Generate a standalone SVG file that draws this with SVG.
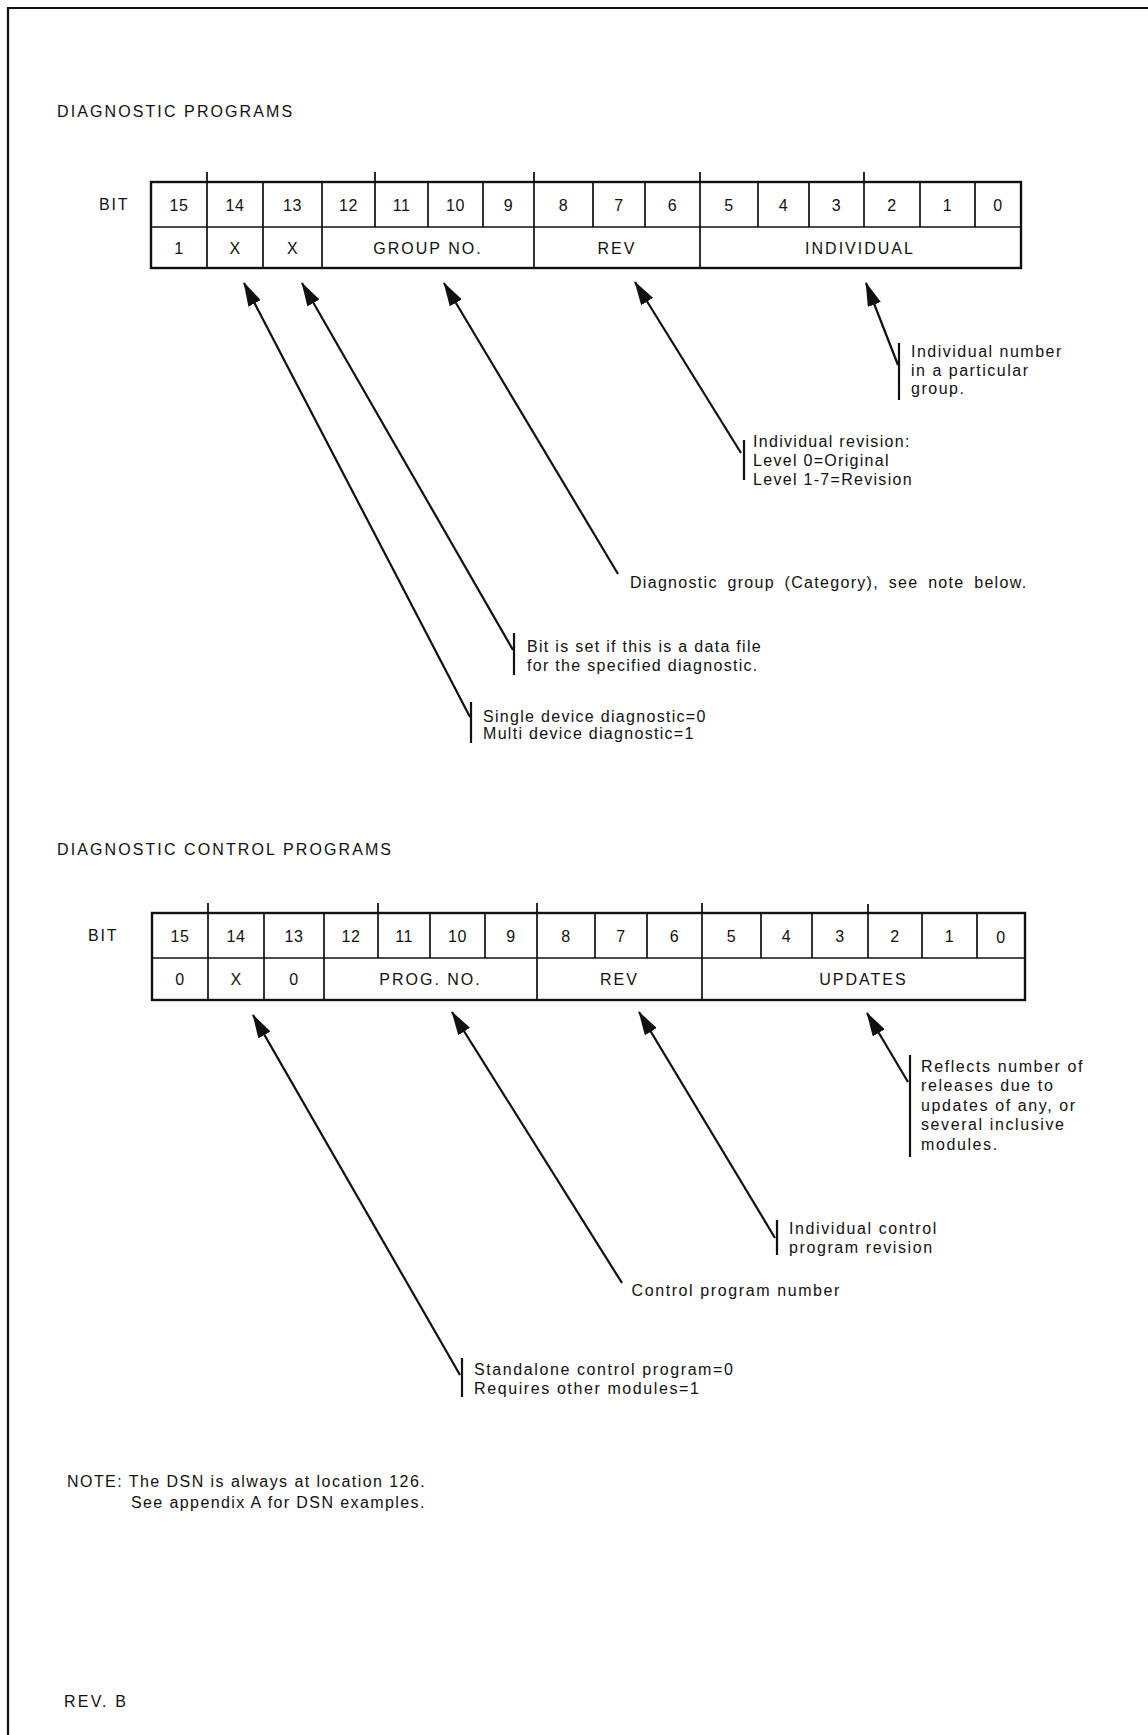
<svg xmlns="http://www.w3.org/2000/svg" width="1148" height="1735" viewBox="0 0 1148 1735">
<style>
text{font-family:"Liberation Sans",Arial,sans-serif;font-size:16px;fill:#111}
.title{letter-spacing:2.1px}
.cell{text-anchor:middle;letter-spacing:0.5px}
.field{text-anchor:middle;letter-spacing:2px}
.body{letter-spacing:1.3px}
.body2{letter-spacing:1.6px}
.box{fill:none;stroke:#111;stroke-width:2.4}
.grid{stroke:#111;stroke-width:1.7;fill:none}
.tick{stroke:#111;stroke-width:1.8}
.conn{stroke:#111;stroke-width:2.2;fill:none;marker-end:url(#arr)}
.bar{stroke:#111;stroke-width:2.2}
.frame{stroke:#111;stroke-width:2.2;fill:none}
</style>
<defs>
<marker id="arr" markerUnits="userSpaceOnUse" viewBox="0 0 24 14" markerWidth="24" markerHeight="14" refX="23" refY="7" orient="auto">
<path d="M0,0 L24,7 L0,14 z" fill="#111"/>
</marker>
</defs>
<rect width="1148" height="1735" fill="#fff"/>
<path class="frame" d="M8,1735 L8,8 L1148,8"/>

<g id="title1"><text class="title" x="57" y="117">DIAGNOSTIC PROGRAMS</text></g>

<g id="table1">
<text x="99" y="210" style="letter-spacing:1.8px">BIT</text>
<rect class="box" x="151" y="182" width="870" height="86"/>
<line class="grid" x1="151" y1="227" x2="1021" y2="227"/>
<path class="grid" d="M207,182V268 M263,182V268 M322,182V268 M375,182V227 M428,182V227 M483,182V227 M534,182V268 M593,182V227 M645,182V227 M700,182V268 M758,182V227 M809,182V227 M864,182V227 M920,182V227 M975,182V227"/>
<path class="tick" d="M207,172V182 M375,172V182 M534,172V182 M700,172V182 M864,172V182"/>
<text class="cell" x="179" y="210.5">15</text>
<text class="cell" x="235" y="210.5">14</text>
<text class="cell" x="292.5" y="210.5">13</text>
<text class="cell" x="348.5" y="210.5">12</text>
<text class="cell" x="401.5" y="210.5">11</text>
<text class="cell" x="455.5" y="210.5">10</text>
<text class="cell" x="508.5" y="210.5">9</text>
<text class="cell" x="563.5" y="210.5">8</text>
<text class="cell" x="619" y="210.5">7</text>
<text class="cell" x="672.5" y="210.5">6</text>
<text class="cell" x="729" y="210.5">5</text>
<text class="cell" x="783.5" y="210.5">4</text>
<text class="cell" x="836.5" y="210.5">3</text>
<text class="cell" x="892" y="210.5">2</text>
<text class="cell" x="947.5" y="210.5">1</text>
<text class="cell" x="998" y="210.5">0</text>
<text class="cell" x="179" y="253.5">1</text>
<text class="cell" x="235" y="253.5">X</text>
<text class="cell" x="292.5" y="253.5">X</text>
<text class="field" x="428" y="253.5">GROUP NO.</text>
<text class="field" x="617" y="253.5">REV</text>
<text class="field" x="860" y="253.5">INDIVIDUAL</text>
</g>

<g id="labels1">
<g id="lbl-individual">
<line class="bar" x1="899" y1="343" x2="899" y2="400"/>
<text class="body" x="911" y="357" style="letter-spacing:1.5px">Individual number</text>
<text class="body" x="911" y="375.5" style="letter-spacing:1.5px">in a particular</text>
<text class="body" x="911" y="394" style="letter-spacing:1.5px">group.</text>
</g>
<g id="lbl-rev">
<line class="bar" x1="744" y1="440" x2="744" y2="480"/>
<text class="body" x="753" y="447">Individual revision:</text>
<text class="body" x="753" y="466">Level 0=Original</text>
<text class="body" x="753" y="485">Level 1-7=Revision</text>
</g>
<g id="lbl-group">
<text class="body" x="630" y="588" style="word-spacing:4px">Diagnostic group (Category), see note below.</text>
</g>
<g id="lbl-bit13">
<line class="bar" x1="514" y1="633" x2="514" y2="675"/>
<text class="body" x="527" y="652">Bit is set if this is a data file</text>
<text class="body" x="527" y="671">for the specified diagnostic.</text>
</g>
<g id="lbl-bit14">
<line class="bar" x1="471" y1="702" x2="471" y2="743"/>
<text class="body" x="483" y="721.5">Single device diagnostic=0</text>
<text class="body" x="483" y="739">Multi device diagnostic=1</text>
</g>
</g>

<g id="title2"><text class="title" x="57" y="855">DIAGNOSTIC CONTROL PROGRAMS</text></g>

<g id="table2">
<text x="88" y="941" style="letter-spacing:1.8px">BIT</text>
<rect class="box" x="152" y="913" width="873" height="87"/>
<line class="grid" x1="152" y1="958" x2="1025" y2="958"/>
<path class="grid" d="M208,913V1000 M264,913V1000 M324,913V1000 M378,913V958 M430,913V958 M485,913V958 M537,913V1000 M595,913V958 M647,913V958 M702,913V1000 M761,913V958 M812,913V958 M868,913V958 M922,913V958 M977,913V958"/>
<path class="tick" d="M208,903V913 M378,903V913 M537,903V913 M702,903V913 M868,904V913"/>
<text class="cell" x="180" y="941.5">15</text>
<text class="cell" x="236" y="941.5">14</text>
<text class="cell" x="294" y="941.5">13</text>
<text class="cell" x="351" y="941.5">12</text>
<text class="cell" x="404" y="941.5">11</text>
<text class="cell" x="457.5" y="941.5">10</text>
<text class="cell" x="511" y="941.5">9</text>
<text class="cell" x="566" y="941.5">8</text>
<text class="cell" x="621" y="941.5">7</text>
<text class="cell" x="674.5" y="941.5">6</text>
<text class="cell" x="731.5" y="941.5">5</text>
<text class="cell" x="786.5" y="941.5">4</text>
<text class="cell" x="840" y="941.5">3</text>
<text class="cell" x="895" y="941.5">2</text>
<text class="cell" x="949.5" y="941.5">1</text>
<text class="cell" x="1001" y="942.5">0</text>
<text class="cell" x="180" y="985">0</text>
<text class="cell" x="236" y="985">X</text>
<text class="cell" x="294" y="985">0</text>
<text class="field" x="430.5" y="985">PROG. NO.</text>
<text class="field" x="619.5" y="985">REV</text>
<text class="field" x="863.5" y="985">UPDATES</text>
</g>

<g id="labels2">
<g id="lbl-updates">
<line class="bar" x1="910" y1="1055" x2="910" y2="1157"/>
<text class="body2" x="921" y="1071.5">Reflects number of</text>
<text class="body2" x="921" y="1091">releases due to</text>
<text class="body2" x="921" y="1110.5">updates of any, or</text>
<text class="body2" x="921" y="1130">several inclusive</text>
<text class="body2" x="921" y="1149.5">modules.</text>
</g>
<g id="lbl-ctlrev">
<line class="bar" x1="777" y1="1220" x2="777" y2="1255"/>
<text class="body2" x="789" y="1234">Individual control</text>
<text class="body2" x="789" y="1253">program revision</text>
</g>
<g id="lbl-prog">
<text class="body2" x="631.5" y="1296">Control program number</text>
</g>
<g id="lbl-standalone">
<line class="bar" x1="462" y1="1358" x2="462" y2="1397"/>
<text class="body2" x="474" y="1374.5">Standalone control program=0</text>
<text class="body2" x="474" y="1394">Requires other modules=1</text>
</g>
</g>

<g id="connectors">
<line class="conn" x1="470" y1="717" x2="244" y2="283"/>
<line class="conn" x1="513" y1="650" x2="302" y2="283"/>
<line class="conn" x1="618" y1="574" x2="444" y2="283"/>
<line class="conn" x1="741" y1="453" x2="635" y2="282"/>
<line class="conn" x1="898" y1="365" x2="866" y2="283"/>
<line class="conn" x1="460" y1="1375" x2="253" y2="1015"/>
<line class="conn" x1="622" y1="1283" x2="452" y2="1012"/>
<line class="conn" x1="775" y1="1238" x2="639" y2="1012"/>
<line class="conn" x1="908" y1="1082" x2="867" y2="1013"/>
</g>

<g id="note">
<text class="body2" x="67" y="1487" style="letter-spacing:1.45px">NOTE: The DSN is always at location 126.</text>
<text class="body2" x="131" y="1508" style="letter-spacing:1.4px">See appendix A for DSN examples.</text>
</g>
<g id="footer"><text class="body" x="64" y="1707" style="letter-spacing:2.2px">REV. B</text></g>
</svg>
